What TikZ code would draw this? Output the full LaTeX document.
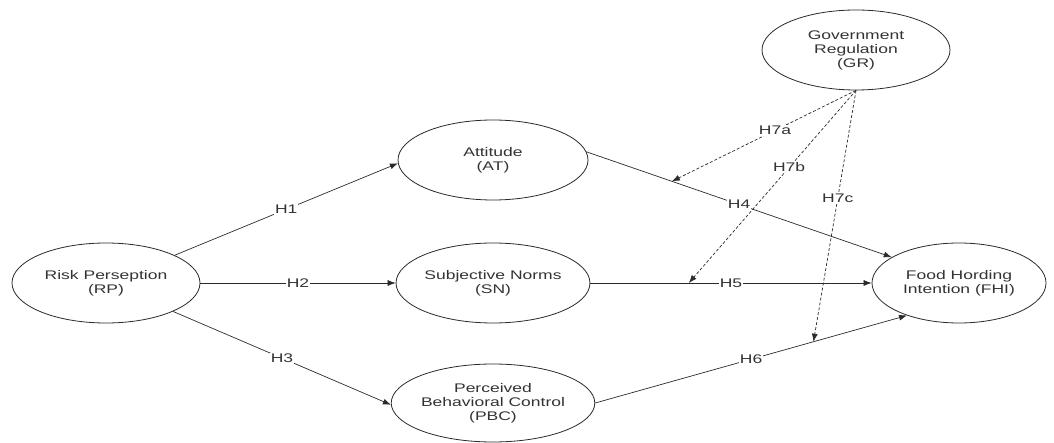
\documentclass[tikz,border=0pt]{standalone}
\usepackage{fontspec}
\setmainfont{Liberation Sans}[FakeStretch=1.4]
\usetikzlibrary{shapes.geometric,arrows.meta}
\definecolor{linec}{HTML}{2A2A2A}
\definecolor{textc}{HTML}{333333}
\begin{document}
\begin{tikzpicture}[x=1pt,y=-1pt,
  font=\fontsize{12.5}{14}\selectfont,
  latent/.style={ellipse, draw=linec, line width=0.8pt, fill=white, inner sep=0pt, align=center, text=textc},
  pathline/.style={draw=linec, line width=0.7pt, -{Latex[length=8pt,width=6pt]}},
  modline/.style={pathline, dash pattern=on 3pt off 2pt},
  hl/.style={fill=white, inner sep=1pt, text=textc}]
\useasboundingbox (0,0) rectangle (1054,443);
\node[latent, minimum width=188pt, minimum height=80pt] (RP) at (106,283) {Risk Perseption\\(RP)};
\node[latent, minimum width=190pt, minimum height=80pt] (AT) at (493,160) {Attitude\\(AT)};
\node[latent, minimum width=190pt, minimum height=80pt] (SN) at (493,283) {Subjective Norms\\(SN)};
\node[latent, minimum width=190pt, minimum height=78pt] (PBC) at (493,403) {Perceived\\Behavioral Control\\(PBC)};
\node[latent, minimum width=188pt, minimum height=80pt] (GR) at (856,50) {Government\\Regulation\\(GR)};
\node[latent, minimum width=174pt, minimum height=80pt] (FHI) at (959,283) {Food Hording\\Intention (FHI)};

\draw[pathline] (RP.22) -- node[hl]{H1} (AT.182);
\draw[pathline] (RP.east) -- node[hl]{H2} (SN.west);
\draw[pathline] (RP.-23) -- node[hl]{H3} (PBC.181);
\draw[pathline] (AT.5) -- node[hl]{H4} coordinate[pos=0.28] (t4) (FHI.159);
\draw[pathline] (SN.east) -- node[hl]{H5} coordinate[pos=0.35] (t5) (FHI.west);
\draw[pathline] (PBC.east) -- node[hl]{H6} coordinate[pos=0.7] (t6) (FHI.212);

\draw[modline] (GR.south) -- node[hl, pos=0.44]{H7a} (t4);
\draw[modline] (GR.south) -- node[hl, pos=0.4]{H7b} (t5);
\draw[modline] (GR.south) -- node[hl, pos=0.43]{H7c} (t6);
\end{tikzpicture}
\end{document}
